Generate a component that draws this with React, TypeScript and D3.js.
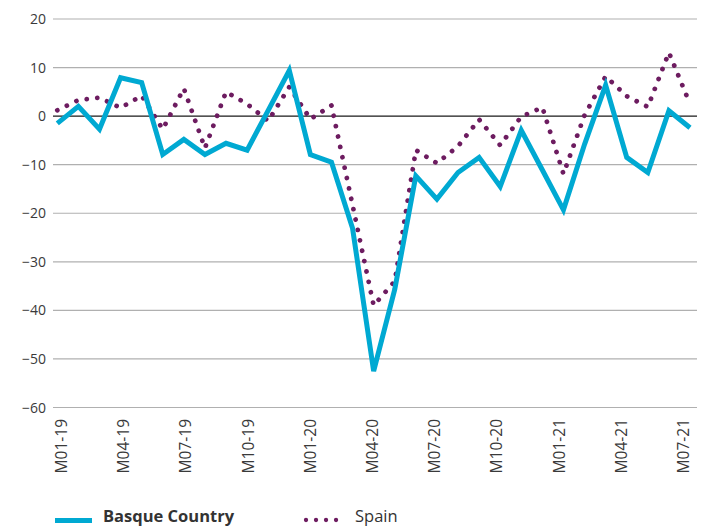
import React, { useEffect, useRef } from 'react';
import * as d3 from 'd3';

const months = [
  'M01-19', 'M02-19', 'M03-19', 'M04-19', 'M05-19', 'M06-19', 'M07-19', 'M08-19', 'M09-19', 'M10-19', 'M11-19', 'M12-19',
  'M01-20', 'M02-20', 'M03-20', 'M04-20', 'M05-20', 'M06-20', 'M07-20', 'M08-20', 'M09-20', 'M10-20', 'M11-20', 'M12-20',
  'M01-21', 'M02-21', 'M03-21', 'M04-21', 'M05-21', 'M06-21', 'M07-21',
];

const basque = [
  -1.5, 2.0, -2.7, 7.9, 6.9, -7.9, -4.8, -7.9, -5.6, -7.0, 1.2, 9.4,
  -7.9, -9.5, -23.1, -52.5, -35.7, -12.3, -17.1, -11.6, -8.5, -14.5, -2.9, -11.1,
  -19.3, -5.8, 6.4, -8.5, -11.6, 1.1, -2.4,
];

const spain = [
  1.2, 3.3, 3.8, 1.7, 4.2, -2.7, 5.7, -6.6, 5.0, 2.5, -1.0, 6.0,
  -0.6, 2.2, -18.3, -39.0, -34.0, -7.0, -9.7, -6.2, -0.7, -6.0, -0.1, 1.8,
  -11.9, 0.2, 8.2, 4.1, 1.9, 13.1, 2.5,
];

const yTicks = [20, 10, 0, -10, -20, -30, -40, -50, -60];
const xTickLabels = ['M01-19', 'M04-19', 'M07-19', 'M10-19', 'M01-20', 'M04-20', 'M07-20', 'M10-20', 'M01-21', 'M04-21', 'M07-21'];

const W = 701;
const H = 526;
const FONT = '"Open Sans", "Noto Sans", sans-serif';
const CYAN = '#00a9d2';
const PURPLE = '#6d1c60';

const App = () => {
  const svgRef = useRef<SVGSVGElement>(null);

  useEffect(() => {
    const svg = d3.select(svgRef.current);
    svg.selectAll('*').remove();

    const x = d3.scalePoint<string>().domain(months).range([57.3, 690]);
    // category labels sit on slightly narrower spacing than the line points
    const xLab = d3.scalePoint<string>().domain(months).range([61.5, 683.5]);
    const y = d3.scaleLinear().domain([-60, 20]).range([407.5, 19]);

    // gridlines
    svg.append('g')
      .selectAll('line')
      .data(yTicks)
      .enter()
      .append('line')
      .attr('x1', 53)
      .attr('x2', 697)
      .attr('y1', d => y(d))
      .attr('y2', d => y(d))
      .attr('stroke', d => (d === 0 ? '#1a1a1a' : '#b0b0b0'))
      .attr('stroke-width', d => (d === 0 ? 1.3 : 1.2));

    // y labels
    svg.append('g')
      .selectAll('text')
      .data(yTicks)
      .enter()
      .append('text')
      .attr('x', 46)
      .attr('y', d => y(d))
      .attr('dy', '0.36em')
      .attr('text-anchor', 'end')
      .attr('font-family', FONT)
      .attr('font-size', 14)
      .attr('fill', '#3a3a3a')
      .text(d => (d < 0 ? '\u2212' + Math.abs(d) : String(d)));

    // x labels
    svg.append('g')
      .selectAll('text')
      .data(xTickLabels)
      .enter()
      .append('text')
      .attr('transform', d => `translate(${xLab(d) as number},419) rotate(-90)`)
      .attr('dy', '0.36em')
      .attr('text-anchor', 'end')
      .attr('font-family', FONT)
      .attr('font-size', 15.5)
      .attr('fill', '#3a3a3a')
      .text(d => d);

    const line = d3.line<number>()
      .x((d, i) => x(months[i]) as number)
      .y(d => y(d));

    svg.append('path')
      .datum(spain)
      .attr('d', line)
      .attr('fill', 'none')
      .attr('stroke', PURPLE)
      .attr('stroke-width', 4.8)
      .attr('stroke-linecap', 'round')
      .attr('stroke-dasharray', '0.01 10.6');

    svg.append('path')
      .datum(basque)
      .attr('d', line)
      .attr('fill', 'none')
      .attr('stroke', CYAN)
      .attr('stroke-width', 5)
      .attr('stroke-linejoin', 'miter');

    // legend
    const lg = svg.append('g');
    lg.append('line')
      .attr('x1', 55).attr('x2', 92)
      .attr('y1', 520.5).attr('y2', 520.5)
      .attr('stroke', CYAN)
      .attr('stroke-width', 5);
    lg.append('text')
      .attr('x', 103).attr('y', 522)
      .attr('font-family', FONT)
      .attr('font-size', 16.5)
      .attr('font-weight', 'bold')
      .attr('fill', '#333')
      .text('Basque Country');
    lg.append('line')
      .attr('x1', 306).attr('x2', 346)
      .attr('y1', 520).attr('y2', 520)
      .attr('stroke', PURPLE)
      .attr('stroke-width', 4.3)
      .attr('stroke-linecap', 'round')
      .attr('stroke-dasharray', '0.01 10');
    lg.append('text')
      .attr('x', 355).attr('y', 522)
      .attr('font-family', FONT)
      .attr('font-size', 16.5)
      .attr('fill', '#333')
      .text('Spain');
  }, []);

  return (
    <svg ref={svgRef} width={W} height={H} style={{ position: 'absolute', left: 0, top: 0 }}></svg>
  );
};

export default App;
